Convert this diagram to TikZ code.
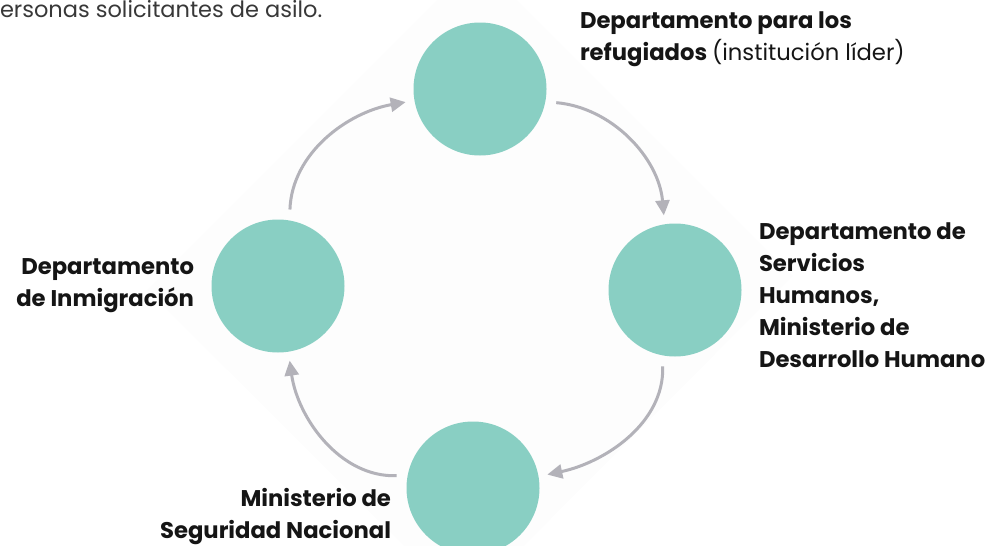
\documentclass[tikz,border=0pt]{standalone}
\usepackage{fontspec}
\setmainfont{Poppins}
\usetikzlibrary{arrows.meta}
\definecolor{teal1}{HTML}{89CFC3}
\definecolor{arrgray}{HTML}{B3B2B9}
\definecolor{bgdia}{HTML}{FDFDFD}
\definecolor{txt}{HTML}{151515}
\tikzset{
  org/.style={circle, fill=teal1, minimum size=133pt, inner sep=0pt, outer sep=0pt},
  lbl/.style={inner sep=0pt, outer sep=0pt, text=txt, font=\fontsize{22.7}{32}\selectfont\bfseries},
  intro/.style={inner sep=0pt, outer sep=0pt, text=txt!85, font=\fontsize{22.5}{32}\selectfont},
  flow/.style={draw=arrgray, line width=3pt, -{Triangle[length=15pt,width=14pt]}, shorten <=11pt, shorten >=9pt},
}
\begin{document}
\begin{tikzpicture}[x=1pt,y=-1pt]
\useasboundingbox (0,0) rectangle (1004,546);
\fill[bgdia] (477,-40) -- (793,276) -- (464,606) -- (147,290) -- cycle;
\node[org] (top) at (480,89) {};
\node[org] (left) at (278,286) {};
\node[org] (right) at (675,290) {};
\node[org] (bottom) at (473,488) {};
\draw[flow] (left.80) to[out=88,in=190] (top.190);
\draw[flow] (top.-11) to[out=-5,in=95] (right.99);
\draw[flow] (right.-101) to[out=-88,in=12] (bottom.10);
\draw[flow] (bottom.169) to[out=182,in=-82] (left.-81);
\node[lbl, anchor=north west, align=left] (ttop) at (580,12) {Departamento para los\\refugiados \mdseries(institución líder)};
\node[lbl, anchor=north west, align=left] (tright) at (759,223) {Departamento de\\Servicios\\Humanos,\\Ministerio de\\Desarrollo Humano};
\node[lbl, anchor=north east, align=right] (tleft) at (194,259) {Departamento\\de Inmigración};
\node[lbl, anchor=north east, align=right] (tbottom) at (391,488) {Ministerio de\\Seguridad Nacional};
\node[intro, anchor=north west] (tintro) at (0,0) {ersonas solicitantes de asilo.};
\end{tikzpicture}
\end{document}
